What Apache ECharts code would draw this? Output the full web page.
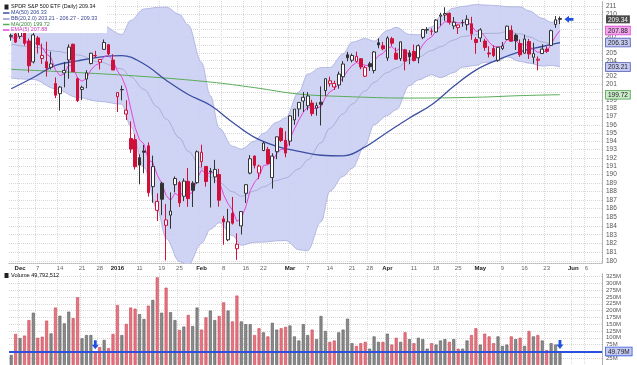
<!DOCTYPE html>
<html><head><meta charset="utf-8"><title>SPY daily</title>
<script src="https://cdn.jsdelivr.net/npm/echarts@6/dist/echarts.min.js"></script>
<style>html,body{margin:0;padding:0;background:#fff;}#chart{width:637px;height:365px;}</style>
</head><body><div id="chart"></div>
<script>
// ---------- categories: trading days (last ones are future days on the axis) ----------
const tradingMonths = [
  ['2015-11', [27, 30]],
  ['2015-12', [1, 2, 3, 4, 7, 8, 9, 10, 11, 14, 15, 16, 17, 18, 21, 22, 23, 24, 28, 29, 30, 31]],
  ['2016-01', [4, 5, 6, 7, 8, 11, 12, 13, 14, 15, 19, 20, 21, 22, 25, 26, 27, 28, 29]],
  ['2016-02', [1, 2, 3, 4, 5, 8, 9, 10, 11, 12, 16, 17, 18, 19, 22, 23, 24, 25, 26, 29]],
  ['2016-03', [1, 2, 3, 4, 7, 8, 9, 10, 11, 14, 15, 16, 17, 18, 21, 22, 23, 24, 28, 29, 30, 31]],
  ['2016-04', [1, 4, 5, 6, 7, 8, 11, 12, 13, 14, 15, 18, 19, 20, 21, 22, 25, 26, 27, 28, 29]],
  ['2016-05', [2, 3, 4, 5, 6, 9, 10, 11, 12, 13, 16, 17, 18, 19, 20, 23, 24, 25, 26, 27, 31]],
  ['2016-06', [1, 2, 3, 6, 7, 8, 9]]
];
const dates = [];
tradingMonths.forEach(([m, ds]) => ds.forEach(d => dates.push(m + '-' + (d < 10 ? '0' + d : d))));

const tickDates = ['2015-12-01','2015-12-07','2015-12-14','2015-12-21','2015-12-28','2016-01-04','2016-01-11','2016-01-19','2016-01-25','2016-02-01','2016-02-08','2016-02-16','2016-02-22','2016-03-01','2016-03-07','2016-03-14','2016-03-21','2016-03-28','2016-04-01','2016-04-11','2016-04-18','2016-04-25','2016-05-02','2016-05-09','2016-05-16','2016-05-23','2016-06-01','2016-06-06'];
const tickText = ['Dec','7','14','21','28','2016','11','19','25','Feb','8','16','22','Mar','7','14','21','28','Apr','11','18','25','May','9','16','23','Jun','6'];
const boldTicks = ['Dec','2016','Feb','Mar','Apr','May','Jun'];

// ---------- price (daily OHLC) ----------
const open = [207.12,207.44,207.13,208.29,206.53,203.85,206.93,204.28,203.87,203.17,201.11,199.85,202.45,204.10,206.11,
201.73,200.38,201.68,203.64,204.66,203.81,205.45,206.05,204.08,
199.46,200.37,197.32,194.33,194.19,192.02,192.83,193.45,188.58,185.81,188.99,184.08,185.25,188.81,189.05,187.45,189.21,188.99,189.05,
191.54,190.97,190.43,189.73,190.01,184.82,182.42,185.45,181.41,184.01,187.80,190.18,192.21,190.19,192.88,193.01,189.65,192.74,195.56,194.11,
194.01,196.60,197.95,198.93,198.34,198.68,198.06,198.79,200.23,201.09,200.68,200.94,201.98,
204.76,204.06,203.91,204.26,202.04,203.61,202.76,206.30,205.91,
204.35,206.83,204.97,204.27,205.39,205.00,205.19,204.37,207.00,207.94,207.80,207.69,209.75,209.91,210.12,208.47,208.26,208.89,208.64,208.76,206.72,
206.92,206.52,204.99,205.56,204.06,205.57,206.72,207.91,207.29,206.21,204.96,206.46,204.44,204.06,204.92,205.49,205.96,208.67,209.44];
const high = [207.49,207.58,208.50,208.68,206.85,207.66,207.18,206.18,206.44,205.15,201.89,200.81,203.84,206.10,206.18,
201.89,200.84,202.80,205.01,205.27,204.21,206.72,206.15,204.83,
200.00,200.86,199.03,196.43,194.85,192.42,193.55,193.86,192.27,187.79,189.14,186.54,187.90,189.78,189.25,189.55,190.78,189.22,192.89,
193.58,190.98,190.80,191.76,190.69,185.17,185.98,187.37,183.16,185.69,188.84,192.33,192.28,191.19,193.95,193.32,192.54,194.55,195.67,195.22,
197.19,197.93,198.79,200.05,200.05,199.09,198.75,200.75,201.77,201.98,201.47,202.62,203.95,
205.13,204.91,205.16,204.31,203.36,203.86,205.25,206.87,206.41,
207.14,207.07,205.68,206.46,205.51,205.34,206.07,206.09,208.10,208.33,208.16,209.38,210.20,210.92,210.25,209.64,208.56,209.29,209.88,209.67,207.03,
208.18,206.80,205.85,205.98,205.77,206.40,208.50,208.54,207.49,206.72,207.34,206.80,206.30,204.54,206.10,205.84,208.00,209.77,209.71];
const low = [206.56,206.26,206.81,205.94,202.50,203.66,204.92,203.60,201.99,202.88,199.29,197.75,200.64,201.72,202.59,
198.80,199.06,200.52,203.53,204.37,202.89,205.41,204.71,202.82,
197.57,199.02,196.59,192.60,190.60,188.85,190.16,187.41,186.70,184.57,185.25,180.09,183.69,187.91,186.20,186.88,186.22,186.20,188.91,
190.86,188.57,186.14,188.99,186.24,181.86,182.26,184.17,180.16,183.02,186.67,190.03,190.74,189.47,192.80,191.19,188.35,191.84,193.90,192.07,
193.45,196.00,197.00,197.57,197.79,197.06,197.12,195.92,199.58,200.73,200.31,200.47,201.35,
203.93,203.79,203.79,202.92,201.92,202.71,202.40,205.59,205.33,
203.98,205.90,204.41,203.96,202.78,203.55,203.91,203.67,206.77,207.47,207.28,207.57,208.51,209.15,208.65,208.05,207.43,208.37,207.92,206.68,204.89,
206.41,205.28,204.42,204.47,203.88,205.36,206.64,206.50,205.37,204.49,204.89,204.23,203.63,202.78,204.86,204.99,205.93,208.23,208.72];
const close = [207.25,206.39,208.36,206.23,203.35,207.31,206.06,204.67,203.08,203.60,199.66,200.67,202.77,205.74,202.61,
198.99,200.64,202.46,204.96,204.62,204.16,206.34,204.87,202.82,
199.99,200.33,197.80,193.05,190.94,191.13,192.67,187.86,190.95,186.85,187.10,184.70,185.73,189.54,186.68,189.23,187.17,188.14,192.73,
192.66,189.18,190.32,190.62,186.99,184.47,184.48,184.32,181.92,185.67,188.81,191.89,191.10,191.02,193.78,191.33,192.21,194.54,194.09,192.57,
197.09,197.93,198.76,199.40,199.56,197.38,198.36,198.52,201.72,201.46,201.13,202.30,203.58,
204.38,204.67,204.56,203.21,203.12,203.24,205.12,206.02,205.52,
206.92,206.25,204.19,206.42,203.95,204.50,204.02,205.92,208.01,208.01,207.78,209.24,209.90,210.10,208.97,208.97,208.61,208.92,209.35,207.45,206.33,
207.97,205.70,204.87,204.67,205.72,205.89,208.45,206.50,206.56,204.76,206.78,204.85,204.91,204.20,205.49,205.21,207.87,209.28,209.34];
const prevClose0 = 207.00;

// ---------- volume (millions of shares) ----------
const volumeM = [37,114,99,108,165,192,100,104,163,116,211,181,153,196,172,249,98,110,110,49,66,92,62,114,
220,110,151,211,207,187,169,218,239,322,192,284,194,165,129,141,184,143,211,
130,175,200,165,180,230,200,160,255,160,150,150,110,135,120,105,155,130,135,140,
145,105,90,150,110,130,95,180,125,85,90,120,130,170,80,70,80,85,60,105,85,85,
115,75,100,85,120,95,80,100,95,60,80,75,90,95,85,95,60,60,90,110,135,
75,115,105,80,105,70,75,105,95,100,70,125,105,110,90,55,80,75,49.79];
const volumeText = '49,792,512';

// ---------- overlays ----------
const ema5 = [207.02,206.81,207.33,206.96,205.76,206.28,206.21,205.70,204.83,204.42,
202.83,202.11,202.33,203.47,203.18,201.78,201.40,201.75,202.82,203.42,
203.67,204.56,204.66,204.05,202.70,201.91,200.54,198.04,195.67,194.16,
193.66,191.73,191.47,189.93,188.99,187.56,186.95,187.81,187.43,188.03,
187.74,187.87,189.49,190.55,190.09,190.17,190.32,189.21,187.63,186.58,
185.83,184.53,184.91,186.21,188.10,189.10,189.74,191.09,191.17,191.52,
192.53,193.05,192.89,194.29,195.50,196.59,197.53,198.21,197.93,198.07,
198.22,199.39,200.08,200.43,201.05,201.89,202.72,203.37,203.77,203.58,
203.43,203.37,203.95,204.64,204.93,205.59,205.81,205.27,205.65,205.08,
204.89,204.60,205.04,206.03,206.69,207.05,207.78,208.49,209.03,209.01,
209.00,208.87,208.89,209.04,208.51,207.78,207.84,207.13,206.38,205.81,
205.78,205.82,206.70,206.63,206.61,205.99,206.25,205.78,205.49,205.06,
205.20,205.20,206.09,207.15,207.88];
const ma50Idx = [0,5,10,15,20,25,30,35,40,45,50,55,60,65,70,75,80,85,90,95,100,105,110,115,120,124];
const ma50Val = [200.46,201.88,203.40,203.99,204.46,204.65,203.58,201.54,199.75,198.40,196.32,194.47,193.39,192.78,192.31,192.23,193.32,195.10,196.84,198.46,200.78,202.81,204.13,205.16,205.82,206.33];
const ma200Idx = [0,15,30,45,55,65,75,90,105,115,124];
const ma200Val = [202.9,202.5,202.0,201.3,200.6,199.8,199.5,199.3,199.4,199.6,199.72];
const bbIdx = [0,5,10,15,20,25,27,30,33,35,38,40,43,45,47,50,52,55,57,60,62,65,67,70,72,75,77,80,82,85,87,90,92,95,97,100,102,105,107,110,112,115,117,120,122,124];
const bbUpper = [210.47,209.87,209.98,210.09,208.76,207.37,209.20,210.70,210.90,210.95,210.00,208.60,203.80,199.60,195.60,193.40,193.05,194.02,194.96,196.31,196.86,200.06,202.31,203.12,203.14,204.88,206.37,206.85,206.51,207.87,208.30,207.37,207.33,208.35,209.74,210.81,211.03,211.28,211.23,211.13,210.99,210.99,210.45,209.48,208.96,209.33];
const bbMid = [206.13,205.75,205.22,204.73,203.82,202.95,201.96,200.38,198.20,196.71,194.41,192.79,190.76,189.72,189.06,187.99,187.43,188.08,188.56,189.31,189.60,190.68,191.75,193.80,195.58,197.34,198.55,200.19,201.27,202.51,203.08,204.11,204.45,205.29,205.80,206.65,207.11,207.34,207.51,207.53,207.75,207.45,207.07,206.40,206.18,206.27];
const bbLower = [201.79,201.63,200.46,199.37,198.88,198.53,195.80,190.84,185.92,182.59,179.95,179.57,182.02,183.62,184.38,182.89,181.81,182.14,182.16,182.31,182.34,181.30,181.19,184.48,188.02,189.80,190.73,193.53,196.03,197.15,197.86,200.85,201.57,202.23,201.86,202.49,203.19,203.40,203.79,203.93,204.51,203.91,203.69,203.32,203.40,203.21];

// ---------- axis ticks ----------
const priceTicks = [180,181,182,183,184,185,186,187,188,189,190,191,192,193,194,195,196,197,198,199,200,201,202,203,204,205,206,207,208,209,210,211];
const priceLabels = [180,181,182,183,184,185,186,187,188,189,190,191,192,193,194,195,196,197,198,199,201,202,204,205,207,210,211];
const volTicks = [25,50,75,100,125,150,175,200,225,250,275,300,325];
const volLabels = [25,75,100,125,150,175,200,225,250,275,300,325];

// ---------- build ----------
const last = a => a[a.length - 1];
const FONT = '"Liberation Sans", Arial, sans-serif';
const tickSet = new Set(tickDates.map(d => dates.indexOf(d)));
const tickMap = {}; tickDates.forEach((d, k) => { tickMap[d] = tickText[k]; });
const pairs = (idx, vals) => idx.map((i, k) => [dates[i], vals[k]]);

const RED = '#d0103a', BLK = '#333333';
const candleData = close.map((c, i) => {
  const prev = i > 0 ? close[i - 1] : prevClose0;
  const col = c >= prev ? BLK : RED;
  const hollow = c >= open[i];
  const fill = hollow ? '#ffffff' : col;
  return { value: [open[i], c, low[i], high[i]], itemStyle: { color: fill, color0: fill, borderColor: col, borderColor0: col, borderWidth: 1 } };
});
const volData = volumeM.map((v, i) => {
  const prev = i > 0 ? close[i - 1] : prevClose0;
  const up = close[i] >= prev;
  return { value: v, itemStyle: { color: up ? '#8a8a8a' : '#e8737e', borderColor: up ? '#5c5c5c' : '#c44a58', borderWidth: 0.6 } };
});

const boxes = [
  { v: last(close), s: 'k' },
  { v: last(ema5), s: 'p' },
  { v: last(ma50Val), s: 'b' },
  { v: last(bbLower), s: 'b' },
  { v: last(ma200Val), s: 'g' }
];
function priceFmt(v) {
  for (const b of boxes) if (Math.abs(v - b.v) < 1e-3) return '{' + b.s + '|' + b.v.toFixed(2) + '}';
  return String(Math.round(v));
}
const boxStyle = (bg, bd, fg) => ({ backgroundColor: bg, borderColor: bd, borderWidth: bd ? 0.8 : 0, color: fg, padding: [1, 2, 0, 2], fontSize: 6.5, fontFamily: FONT });

const dotted = { color: '#d9d9d9', type: 'dotted', width: 1 };
const LEFT = 9, RIGHT = 35;

const option = {
  animation: false,
  backgroundColor: '#ffffff',
  grid: [
    { left: LEFT, right: RIGHT, top: 1, height: 262 },
    { left: LEFT, right: RIGHT, top: 273, height: 92 }
  ],
  xAxis: [
    {
      type: 'category', gridIndex: 0, data: dates, boundaryGap: true,
      axisLine: { show: true, lineStyle: { color: '#b5b5b5', type: 'dotted' } },
      axisTick: { show: false },
      splitLine: { show: true, interval: i => tickSet.has(i), lineStyle: dotted },
      axisLabel: {
        interval: i => tickSet.has(i), margin: 2, fontSize: 6, fontFamily: FONT, color: '#666',
        formatter: v => { const t = tickMap[v] || ''; return boldTicks.includes(t) ? '{b|' + t + '}' : t; },
        rich: { b: { fontWeight: 'bold', color: '#222', fontSize: 6, fontFamily: FONT } }
      }
    },
    {
      type: 'category', gridIndex: 1, data: dates, boundaryGap: true, position: 'top',
      axisLine: { show: true, lineStyle: { color: '#b5b5b5', type: 'dotted' } },
      axisTick: { show: false }, axisLabel: { show: false },
      splitLine: { show: true, interval: i => tickSet.has(i), lineStyle: dotted }
    }
  ],
  yAxis: [
    {
      type: 'log', logBase: 10, gridIndex: 0, position: 'right', min: 179.8, max: 211.75,
      axisLine: { show: true, lineStyle: { color: '#aaaaaa', type: 'dotted' } },
      axisTick: { show: false, customValues: priceTicks },
      splitLine: { show: true, lineStyle: dotted },
      axisLabel: {
        customValues: priceLabels.concat(boxes.map(b => b.v)),
        formatter: priceFmt, fontSize: 6.5, fontFamily: FONT, color: '#555', margin: 4,
        rich: {
          k: boxStyle('#4a4a4a', null, '#ffffff'),
          p: boxStyle('#f3a6ee', '#d63fcf', '#222'),
          b: boxStyle('#c6cbf3', '#4150b0', '#222'),
          g: boxStyle('#c9ebc9', '#4aa04a', '#222')
        }
      }
    },
    {
      type: 'value', gridIndex: 1, position: 'right', min: 0, max: 338,
      axisLine: { show: true, lineStyle: { color: '#aaaaaa', type: 'dotted' } },
      axisTick: { show: false, customValues: volTicks },
      splitLine: { show: true, lineStyle: dotted },
      axisLabel: {
        customValues: volLabels.concat([last(volumeM)]),
        formatter: v => Math.abs(v - last(volumeM)) < 1e-3 ? '{vb|' + last(volumeM).toFixed(2) + 'M}' : v + 'M',
        fontSize: 6, fontFamily: FONT, color: '#555', margin: 4,
        rich: { vb: boxStyle('#c6cbf3', '#2b50e0', '#222') }
      }
    }
  ],
  series: [
    { name: 'BB lower', type: 'line', xAxisIndex: 0, yAxisIndex: 0, stack: 'bb', data: pairs(bbIdx, bbLower),
      smooth: 0.35, smoothMonotone: 'x', showSymbol: false, symbol: 'none', lineStyle: { color: '#a7abdc', width: 0.8 }, z: 1, silent: true },
    { name: 'BB band', type: 'line', xAxisIndex: 0, yAxisIndex: 0, stack: 'bb', data: bbIdx.map((i, k) => [dates[i], bbUpper[k] - bbLower[k]]),
      smooth: 0.35, smoothMonotone: 'x', showSymbol: false, symbol: 'none', lineStyle: { color: '#a7abdc', width: 0.8 },
      areaStyle: { color: '#cbcff3', opacity: 0.9 }, z: 1, silent: true },
    { name: 'BB mid', type: 'line', xAxisIndex: 0, yAxisIndex: 0, data: pairs(bbIdx, bbMid),
      smooth: 0.35, smoothMonotone: 'x', symbol: 'none', lineStyle: { color: '#9094c4', width: 0.6 }, z: 2, silent: true },
    { name: 'MA(200)', type: 'line', xAxisIndex: 0, yAxisIndex: 0, data: pairs(ma200Idx, ma200Val),
      smooth: 0.4, symbol: 'none', lineStyle: { color: '#5aac5a', width: 1 }, z: 3, silent: true },
    { name: 'MA(50)', type: 'line', xAxisIndex: 0, yAxisIndex: 0, data: pairs(ma50Idx, ma50Val),
      smooth: 0.4, symbol: 'none', lineStyle: { color: '#3b4fa3', width: 1.3 }, z: 3, silent: true },
    { name: 'EMA(5)', type: 'line', xAxisIndex: 0, yAxisIndex: 0, data: ema5,
      symbol: 'none', lineStyle: { color: '#e545d8', width: 1 }, z: 4, silent: true },
    { name: 'SPY', type: 'candlestick', xAxisIndex: 0, yAxisIndex: 0, data: candleData, barWidth: 3.2, z: 5,
      markPoint: { symbol: 'path://M0,5L5,0L5,3L10,3L10,7L5,7L5,10Z', symbolSize: [9, 7], silent: true,
        itemStyle: { color: '#1f4fe0' }, label: { show: false },
        data: [{ coord: [dates[close.length - 1], last(close)], symbolOffset: [9, 0] }] } },
    { name: 'Volume', type: 'bar', xAxisIndex: 1, yAxisIndex: 1, data: volData, barWidth: 3, z: 2,
      markLine: { symbol: ['none', 'none'], silent: true, label: { show: false },
        lineStyle: { color: '#2b50e0', width: 2, type: 'solid' }, data: [{ yAxis: last(volumeM) }] },
      markPoint: { symbol: 'path://M3,0L7,0L7,5L10,5L5,10L0,5L3,5Z', symbolSize: [7, 9], silent: true,
        itemStyle: { color: '#1f4fe0' }, label: { show: false },
        data: [{ coord: [dates[19], volumeM[19]], symbolOffset: [0, -7] },
               { coord: [dates[volumeM.length - 1], last(volumeM)], symbolOffset: [0, -7] }] } }
  ],
  graphic: []
};

// legend block (top-left) and volume title
const legendRows = [
  { mk: 'box', color: '#222', textColor: '#111', text: 'SPDR S&P 500 ETF (Daily) ' + last(close).toFixed(2) },
  { mk: 'line', color: '#3b4fa3', textColor: '#2d3f8f', text: 'MA(50) ' + last(ma50Val).toFixed(2) },
  { mk: 'line', color: '#8f95d6', textColor: '#3a4590', text: 'BB(20,2.0) ' + last(bbLower).toFixed(2) + ' - ' + last(bbMid).toFixed(2) + ' - ' + last(bbUpper).toFixed(2) },
  { mk: 'line', color: '#5aac5a', textColor: '#3b8a3b', text: 'MA(200) ' + last(ma200Val).toFixed(2) },
  { mk: 'line', color: '#e545d8', textColor: '#cc33c0', text: 'EMA(5) ' + last(ema5).toFixed(2) }
];
const rowY = [7, 13, 19, 24.5, 30];
option.graphic.push({ type: 'rect', left: 0, top: 0, shape: { width: 107, height: 33 }, style: { fill: '#ffffff' }, z: 90, silent: true });
legendRows.forEach((r, k) => {
  const y = rowY[k];
  if (r.mk === 'box') option.graphic.push({ type: 'rect', shape: { x: 4.5, y: y - 2.5, width: 4, height: 5 }, style: { fill: r.color }, z: 91, silent: true });
  else option.graphic.push({ type: 'line', shape: { x1: 3, y1: y, x2: 9.5, y2: y }, style: { stroke: r.color, lineWidth: 1.5 }, z: 91, silent: true });
  option.graphic.push({ type: 'text', x: 11, y: y, style: { text: r.text, fill: r.textColor, font: '5.4px ' + FONT, verticalAlign: 'middle', textVerticalAlign: 'middle' }, z: 92, silent: true });
});
option.graphic.push({ type: 'rect', shape: { x: 4.5, y: 273, width: 4, height: 5 }, style: { fill: '#222' }, z: 91, silent: true });
option.graphic.push({ type: 'text', x: 11, y: 275.5, style: { text: 'Volume ' + volumeText, fill: '#111', font: '5.6px ' + FONT, verticalAlign: 'middle', textVerticalAlign: 'middle' }, z: 92, silent: true });

const chart = echarts.init(document.getElementById('chart'), null, { renderer: 'canvas' });
chart.setOption(option);
</script>
</body></html>
